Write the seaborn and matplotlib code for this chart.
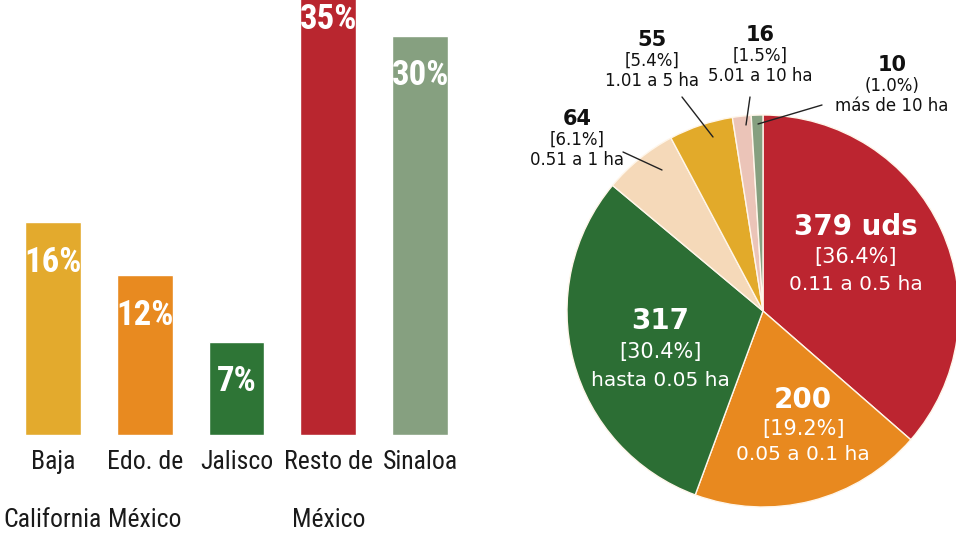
import matplotlib
matplotlib.use("Agg")
import matplotlib.pyplot as plt
from matplotlib import font_manager
from matplotlib.lines import Line2D
import seaborn as sns
import pandas as pd

# ---- data -------------------------------------------------------------
regions = ["Baja\nCalifornia", "Edo. de\nMéxico", "Jalisco", "Resto de\nMéxico", "Sinaloa"]
region_share = [16, 12, 7, 35, 30]
region_colors = ["#E3AA2D", "#E88A20", "#2E7536", "#B9262F", "#86A080"]

size_ranges = ["0.11 a 0.5 ha", "0.05 a 0.1 ha", "hasta 0.05 ha", "0.51 a 1 ha",
               "1.01 a 5 ha", "5.01 a 10 ha", "más de 10 ha"]
unit_counts = [379, 200, 317, 64, 55, 16, 10]
unit_pct = ["[36.4%]", "[19.2%]", "[30.4%]", "[6.1%]", "[5.4%]", "[1.5%]", "(1.0%)"]
count_text = ["379 uds", "200", "317", "64", "55", "16", "10"]
slice_colors = ["#BC2530", "#E8891F", "#2C6E34", "#F5D9B9", "#E2AA2A", "#EBC4B8", "#86A080"]

# ---- fonts ------------------------------------------------------------
sns.set_theme(style="white")
installed = {f.name for f in font_manager.fontManager.ttflist}
def pick(*names):
    for n in names:
        if n in installed:
            return n
    return "DejaVu Sans"
narrow = pick("Liberation Sans Narrow", "DejaVu Sans Condensed", "Roboto Condensed", "Liberation Sans")
plt.rcParams["font.family"] = ["DejaVu Sans"]

W, H = 956, 540
fig = plt.figure(figsize=(W / 100, H / 100), dpi=100)
fig.patch.set_facecolor("white")

# ---- left: bar chart ----------------------------------------------------
base_px, px_per_unit = 435, 13.3
top_val = base_px / px_per_unit
ax1 = fig.add_axes([7 / W, (H - base_px) / H, 459 / W, base_px / H])
df = pd.DataFrame({"region": regions, "share": region_share})
sns.barplot(data=df, x="region", y="share", hue="region", palette=region_colors,
            width=0.61, saturation=1, legend=False, ax=ax1)
ax1.set_xlim(-0.5, 4.5)
ax1.set_ylim(0, top_val)
ax1.set_xlabel("")
ax1.set_ylabel("")
ax1.set_yticks([])
for s in ax1.spines.values():
    s.set_visible(False)
ax1.tick_params(axis="x", length=0, pad=11)
for lab in ax1.get_xticklabels():
    lab.set_fontfamily(narrow)
    lab.set_fontsize(18.5)
    lab.set_color("#1a1a1a")
    lab.set_verticalalignment("top")
    lab.set_linespacing(2.8)
for i, v in enumerate(region_share):
    # the tallest bar runs past the top edge; keep its label inside the frame
    ax1.text(i, min(v - 3.0, top_val - 1.5), f"{v}%", ha="center", va="center",
             color="white", fontsize=25, fontweight="bold", family=narrow)

# ---- right: pie chart ---------------------------------------------------
cx, cy, r = 763, 311, 196
ax2 = fig.add_axes([500 / W, 0, 456 / W, 1])
ax2.pie(unit_counts, colors=slice_colors, startangle=90, counterclock=False,
        radius=1, wedgeprops=dict(edgecolor="#FFF6EA", linewidth=1.0))
ax2.set_xlim((500 - cx) / r, (W - cx) / r)
ax2.set_ylim(-(H - cy) / r, cy / r)
ax2.set_aspect("auto")
ax2.axis("off")

def put(x, y, s, **kw):
    fig.text(x / W, 1 - y / H, s, ha="center", va="center", **kw)

def leader(x1, y1, x2, y2):
    fig.add_artist(Line2D([x1 / W, x2 / W], [1 - y1 / H, 1 - y2 / H],
                          transform=fig.transFigure, color="#222222", lw=1.0))

# labels inside the large slices (x, y of first line, line gap)
inside = {0: (856, 227, 30), 1: (803, 400, 29), 2: (660, 321, 31)}
for k, (x, y, gap) in inside.items():
    put(x, y, count_text[k], color="white", fontsize=20, fontweight="bold")
    put(x, y + gap, unit_pct[k], color="white", fontsize=15)
    put(x, y + 2 * gap - 3, size_ranges[k], color="white", fontsize=14.5)

# labels outside the small slices
outside = {3: (577, 119), 4: (652, 40), 5: (760, 35), 6: (892, 65)}
for k, (x, y) in outside.items():
    put(x, y, count_text[k], color="#111111", fontsize=15, fontweight="bold")
    put(x, y + 21, unit_pct[k], color="#111111", fontsize=12)
    put(x, y + 41, size_ranges[k], color="#111111", fontsize=12)

leader(623, 152, 662, 170)
leader(682, 97, 713, 137)
leader(750, 97, 746, 125)
leader(822, 105, 758, 124)

fig.savefig("out.png", dpi=100)
